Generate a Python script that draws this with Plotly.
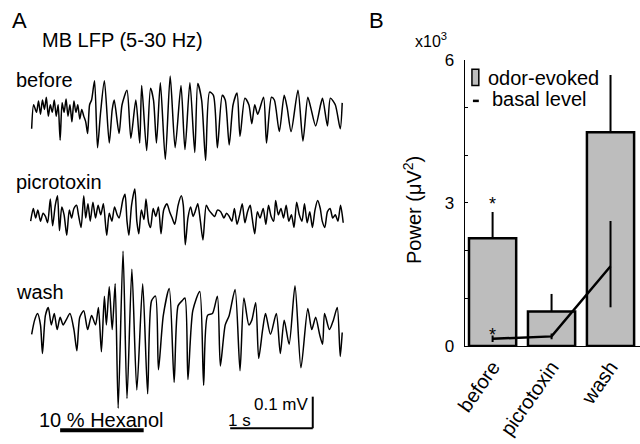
import plotly.graph_objects as go

W, H = 640, 444
FONT = "Liberation Sans, Arial, sans-serif"

# ---------------- Panel A: LFP traces (time in s, voltage in µV) ----------------
before_t = [0.012, 0.036, 0.071, 0.095, 0.119, 0.143, 0.167, 0.190, 0.214, 0.238, 0.262, 0.286, 0.310, 0.333,
            0.357, 0.381, 0.405, 0.429, 0.452, 0.476, 0.500, 0.524, 0.548, 0.571, 0.595, 0.619, 0.643, 0.667,
            0.690, 0.714, 0.738, 0.774, 0.810, 0.845, 0.893, 0.952, 0.988, 1.012, 1.071, 1.107, 1.167, 1.214,
            1.274, 1.321, 1.345, 1.405, 1.452, 1.488, 1.524, 1.571, 1.631, 1.690, 1.750, 1.821, 1.869, 1.929,
            1.988, 2.024, 2.071, 2.119, 2.167, 2.214, 2.262, 2.321, 2.357, 2.405, 2.452, 2.500, 2.536, 2.595,
            2.643, 2.679, 2.714, 2.750, 2.821, 2.857, 2.917, 2.952, 3.012, 3.071, 3.107, 3.155, 3.238, 3.298,
            3.357, 3.393, 3.452, 3.512, 3.536, 3.595, 3.631, 3.690, 3.750, 3.774]
before_uv = [-61, 15, -9, 27, -15, 30, 0, 39, -21, 15, -9, 30, -21, 15,
             -97, 21, -9, 33, -21, 15, -39, 27, -9, 15, -30, 0, -21, -39,
             -76, 15, 30, 91, -121, -15, 91, -106, 0, 30, -76, 15, 61, -91,
             30, -106, 76, -130, 67, 30, -106, 85, -158, 106, -121, 76, -127, 85,
             -136, 82, 30, -161, 55, 45, -121, 45, 30, -112, 15, 52, -85, 36,
             15, -45, 15, -15, 39, -106, 39, 30, -70, 45, 6, -70, 61, -100,
             39, 6, -52, 15, 36, -52, 36, 15, -61, 21]

picro_t = [0.000, 0.032, 0.060, 0.087, 0.119, 0.151, 0.179, 0.206, 0.238, 0.266, 0.298, 0.325, 0.349, 0.377,
           0.405, 0.437, 0.468, 0.496, 0.524, 0.556, 0.579, 0.611, 0.643, 0.667, 0.694, 0.722, 0.754, 0.786,
           0.817, 0.849, 0.881, 0.921, 0.952, 0.984, 1.016, 1.048, 1.071, 1.119, 1.143, 1.167, 1.190, 1.222,
           1.262, 1.286, 1.310, 1.341, 1.373, 1.397, 1.429, 1.452, 1.484, 1.516, 1.548, 1.579, 1.611, 1.651,
           1.683, 1.714, 1.746, 1.786, 1.825, 1.849, 1.873, 1.905, 1.937, 1.968, 1.992, 2.024, 2.056, 2.087,
           2.127, 2.159, 2.190, 2.230, 2.262, 2.302, 2.341, 2.373, 2.405, 2.437, 2.468, 2.500, 2.532, 2.563,
           2.595, 2.627, 2.659, 2.683, 2.714, 2.746, 2.778, 2.817, 2.849, 2.881, 2.913, 2.944, 2.968, 3.000,
           3.032, 3.063, 3.095, 3.127, 3.159, 3.190, 3.222, 3.254, 3.286, 3.317, 3.349, 3.381, 3.413, 3.444,
           3.476, 3.508, 3.532, 3.563, 3.595, 3.627, 3.659, 3.690, 3.722, 3.754, 3.786]
picro_uv = [-14, 26, -4, 21, -14, 11, 1, -19, 56, -29, 36, 66, -44, 31,
            6, -59, 21, -4, 26, 36, 6, -34, 66, -4, 41, -14, 46, -4,
            36, 6, 41, -59, 11, -14, 31, 6, -4, 56, 71, -14, -59, 36,
            88, -14, -54, 21, -9, 56, -19, -34, 26, 1, 31, -54, 21, 41,
            16, -4, -24, 36, 66, 36, -89, -4, 31, 1, 16, 41, -14, -74,
            36, 21, 11, 1, 21, 16, -4, 11, 1, -14, 26, -24, 6, 41,
            -19, 16, 36, -4, -54, 16, -4, 26, -24, 36, 1, -14, 51, 6,
            26, -4, 36, -14, 6, -34, 46, 6, -14, 41, -19, 16, -34, 21,
            51, 26, -14, -34, 16, 26, -4, 6, -14, 36, -19]

wash_t = [0.012, 0.048, 0.083, 0.119, 0.143, 0.179, 0.214, 0.250, 0.286, 0.321, 0.357, 0.393, 0.429, 0.476,
          0.524, 0.560, 0.595, 0.643, 0.690, 0.738, 0.786, 0.821, 0.857, 0.893, 0.917, 0.952, 0.988, 1.024,
          1.060, 1.119, 1.167, 1.226, 1.286, 1.357, 1.417, 1.464, 1.512, 1.548, 1.607, 1.679, 1.738, 1.786,
          1.833, 1.869, 1.905, 1.964, 2.048, 2.095, 2.143, 2.202, 2.262, 2.298, 2.357, 2.405, 2.476, 2.536,
          2.583, 2.643, 2.679, 2.726, 2.762, 2.810, 2.845, 2.905, 2.976, 3.024, 3.071, 3.131, 3.202, 3.274,
          3.357, 3.405, 3.452, 3.500, 3.536, 3.560, 3.619, 3.667, 3.714, 3.750, 3.774]
wash_uv = [-30, 15, 36, 0, -91, 30, 55, 0, 36, -15, 24, 0, 15, 36,
           -15, -82, 24, 45, -15, 30, 0, 55, -85, 91, 0, 121, -15, 130,
           -264, 233, -233, 176, -206, 130, -218, 76, 91, -142, 30, 115, -182, 61,
           76, 85, -173, 45, 106, -191, 30, 36, 91, -130, 0, 30, 112, -145,
           85, 0, 15, 70, -106, -15, 36, -30, 36, -91, 15, -61, 124, -136,
           52, -15, 24, -30, -61, 36, -15, 15, 55, -100, -24]

trace_names = ["before", "picrotoxin", "wash"]
odor_on, odor_off = 0.357, 1.369      # stimulus (s)
scale_t, scale_uv = 1.0, 100          # scale bars: 1 s, 0.1 mV

# ---------------- Panel B: power ----------------
categories = ["before", "picrotoxin", "wash"]
evoked = [2.26, 0.72, 4.48]           # x10^3 µV^2
evoked_err = [0.55, 0.37, 1.20]
basal = [0.15, 0.20, 1.67]
basal_err_up = [0.07, 0.06, 0.95]
basal_err_dn = [0.07, 0.06, 0.86]

# ---------------- helpers (pixel -> paper) ----------------
def px(x):
    return x / W

def py(y):
    return 1 - y / H

UV_PER_PX = 1000 / 330.0
offsets = {"before": -105 * UV_PER_PX, "picrotoxin": -217 * UV_PER_PX, "wash": -330 * UV_PER_PX}

fig = go.Figure()
for name, t, v in [("before", before_t, before_uv), ("picrotoxin", picro_t, picro_uv), ("wash", wash_t, wash_uv)]:
    fig.add_trace(go.Scatter(x=t, y=[offsets[name] + a for a in v], mode="lines",
                             line=dict(color="black", width=1.5, shape="spline", smoothing=0.7),
                             xaxis="x", yaxis="y", showlegend=False, hoverinfo="skip"))

# Bars
fig.add_trace(go.Bar(x=list(range(3)), y=evoked, width=0.8, xaxis="x2", yaxis="y2",
                     marker=dict(color="#bdbdbd", line=dict(color="black", width=2.5)),
                     error_y=dict(type="data", symmetric=False, array=evoked_err, arrayminus=[0, 0, 0],
                                  color="black", thickness=2, width=0),
                     showlegend=False, hoverinfo="skip"))
fig.add_trace(go.Scatter(x=list(range(3)), y=basal, mode="lines", xaxis="x2", yaxis="y2",
                         line=dict(color="black", width=2.5),
                         error_y=dict(type="data", symmetric=False, array=basal_err_up, arrayminus=basal_err_dn,
                                      color="black", thickness=2, width=0),
                         showlegend=False, hoverinfo="skip"))

ann = []
def text(x, y, s, size=20, xanchor="center", yanchor="middle", angle=0):
    ann.append(dict(x=px(x), y=py(y), xref="paper", yref="paper", text=s, showarrow=False,
                    font=dict(family=FONT, size=size, color="black"), xanchor=xanchor, yanchor=yanchor,
                    textangle=angle))

text(9, 12, "A", 22)
text(113, 32, "MB LFP (5-30 Hz)", 20)
text(3, 74, trace_names[0], 20, xanchor="left")
text(3, 181, trace_names[1], 20, xanchor="left")
text(3, 296, trace_names[2], 20, xanchor="left")
text(92, 429, "10 % Hexanol", 20)
text(233, 430, "1 s", 17)
text(275, 413, "0.1 mV", 17)
text(372, 12, "B", 22)
text(427, 32, "x10<sup>3</sup>", 16)
text(483, 72, "odor-evoked", 20, xanchor="left")
text(487, 94, "basal level", 20, xanchor="left")
text(408, 210, "Power (μV<sup>2</sup>)", 20, angle=-90)
# asterisks (significance marks)
ann.append(dict(x=0, y=evoked[0] + evoked_err[0], xref="x2", yref="y2", text="*", showarrow=False,
                yshift=8, font=dict(family=FONT, size=18, color="black")))
ann.append(dict(x=0, y=basal[0] + basal_err_up[0], xref="x2", yref="y2", text="*", showarrow=False,
                yshift=0, font=dict(family=FONT, size=18, color="black")))

shapes = []
y_stim = -(440) * UV_PER_PX
y_sb = -(438) * UV_PER_PX
shapes.append(dict(type="line", xref="x", yref="y", x0=odor_on, x1=odor_off, y0=y_stim, y1=y_stim,
                   line=dict(color="black", width=4)))
sb_x1 = 3.417
shapes.append(dict(type="line", xref="x", yref="y", x0=sb_x1 - scale_t, x1=sb_x1, y0=y_sb, y1=y_sb,
                   line=dict(color="black", width=2)))
shapes.append(dict(type="line", xref="x", yref="y", x0=sb_x1, x1=sb_x1, y0=y_sb, y1=y_sb + scale_uv,
                   line=dict(color="black", width=2)))
# legend symbols
shapes.append(dict(type="rect", xref="paper", yref="paper", x0=px(469), x1=px(476), y0=py(80), y1=py(63),
                   fillcolor="#bdbdbd", line=dict(color="black", width=1.5)))
shapes.append(dict(type="line", xref="paper", yref="paper", x0=px(470), x1=px(476), y0=py(96), y1=py(96),
                   line=dict(color="black", width=2.5)))

fig.update_layout(
    width=W, height=H, margin=dict(l=0, r=0, t=0, b=0),
    paper_bgcolor="white", plot_bgcolor="white",
    font=dict(family=FONT, size=20, color="black"),
    hovermode=False,
    xaxis=dict(domain=[0, 345 / W], range=[-20 / 84, 325 / 84], visible=False),
    yaxis=dict(domain=[0, 1], range=[-H * UV_PER_PX, 0], visible=False),
    xaxis2=dict(domain=[462 / W, 1], range=[-0.467, 2.5], anchor="y2", showline=True, linecolor="black",
                linewidth=1.5, showgrid=False, zeroline=False, tickmode="array", tickvals=list(range(3)),
                ticktext=categories, tickangle=-55, ticks="", tickfont=dict(size=20)),
    yaxis2=dict(domain=[92 / H, 391 / H], range=[0, 6], anchor="x2", showline=True, linecolor="black",
                linewidth=1.5, showgrid=False, zeroline=False, tickmode="linear", tick0=0, dtick=3,
                ticks="inside", ticklen=3, tickcolor="black", tickfont=dict(size=17),
                ticklabelstandoff=6,
                minor=dict(dtick=1, ticks="inside", ticklen=3, tickcolor="black")),
    annotations=ann, shapes=shapes,
)

fig.write_html("out.html", config={"displayModeBar": False, "staticPlot": True},
               post_script="document.body.style.margin='0px';document.body.style.overflow='hidden';")
